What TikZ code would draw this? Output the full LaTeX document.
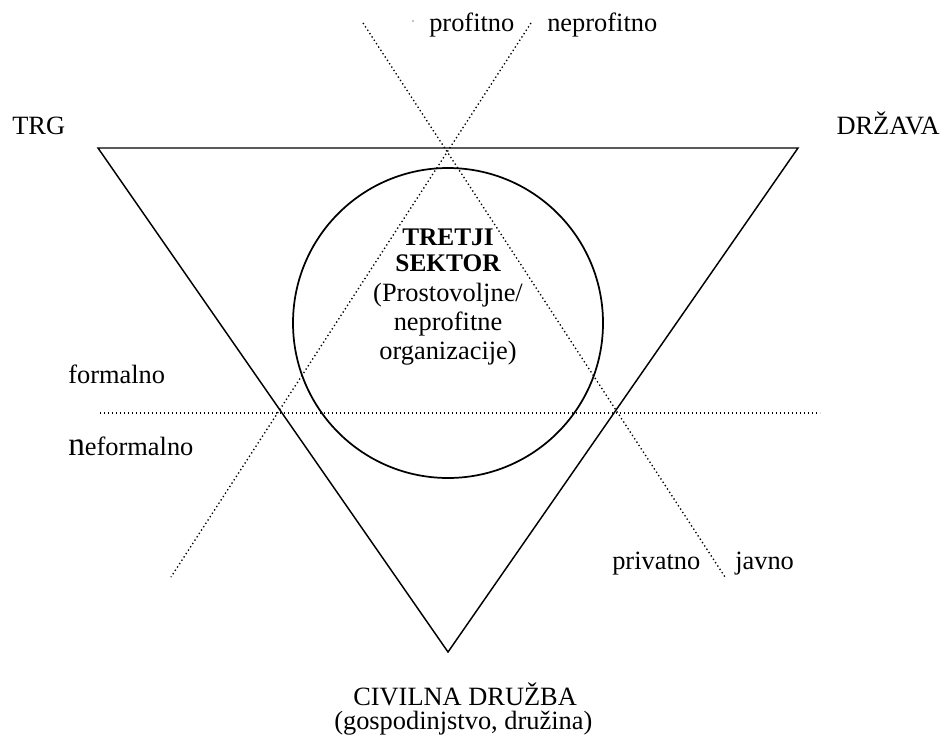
\documentclass[tikz,border=0pt]{standalone}
\usepackage{fontspec}
\setmainfont{Liberation Serif}
\tikzset{
  lbl/.style={inner sep=0pt, anchor=base west, font=\fontsize{19.8}{22}\selectfont},
  boldlbl/.style={inner sep=0pt, anchor=base, font=\fontsize{19}{20}\selectfont\bfseries},
  dotline/.style={line width=1pt, dash pattern=on 1pt off 2pt},
  edgeline/.style={line width=1.1pt, line join=miter}
}
\begin{document}
\begin{tikzpicture}[x=0.75pt, y=-0.75pt]
    \useasboundingbox (0,0) rectangle (944,738);
    % corners of the triangle
    \coordinate (trg) at (98,148);
    \coordinate (drz) at (798,148);
    \coordinate (civ) at (448,652);
    \draw[edgeline] (trg) -- (drz) -- (civ) -- cycle;
    \draw[line width=1.3pt] (448,323) circle[radius=116.25pt];
    % dotted axes
    \coordinate (pt) at (363,23);
    \coordinate (pb) at (725,577);
    \coordinate (nt) at (531,23);
    \coordinate (nb) at (171,577);
    \coordinate (fl) at (100,413);
    \coordinate (fr) at (820,413);
    \draw[dotline] (pt) -- (pb);
    \draw[dotline] (nt) -- (nb);
    \draw[dotline] (fl) -- (fr);
    \fill (413,21) circle[radius=0.5pt];
    % labels
    \node (ltrg) [lbl] at (12,135) {TRG};
    \node (ldrz) [lbl, anchor=base east] at (940,135) {DRŽAVA};
    \node (lpro) [lbl] at (429,32) {profitno};
    \node (lnep) [lbl] at (547,32) {neprofitno};
    \node (lfor) [lbl] at (68,383) {formalno};
    \node (lnef) [lbl] at (68,455) {{\fontsize{25}{25}\selectfont n}eformalno};
    \node (lpri) [lbl] at (612,569) {privatno};
    \node (ljav) [lbl] at (735,569) {javno};
    \node (lciv) [lbl] at (353,705) {CIVILNA DRUŽBA};
    \node (lgos) [lbl] at (334,729) {(gospodinjstvo, družina)};
    % text in the circle
    \node (ts1) [boldlbl] at (448,245) {TRETJI};
    \node (ts2) [boldlbl] at (448,271) {SEKTOR};
    \node (ts3) [lbl, anchor=base] at (448,301) {(Prostovoljne/};
    \node (ts4) [lbl, anchor=base] at (448,330) {neprofitne};
    \node (ts5) [lbl, anchor=base] at (448,359) {organizacije)};
\end{tikzpicture}
\end{document}
